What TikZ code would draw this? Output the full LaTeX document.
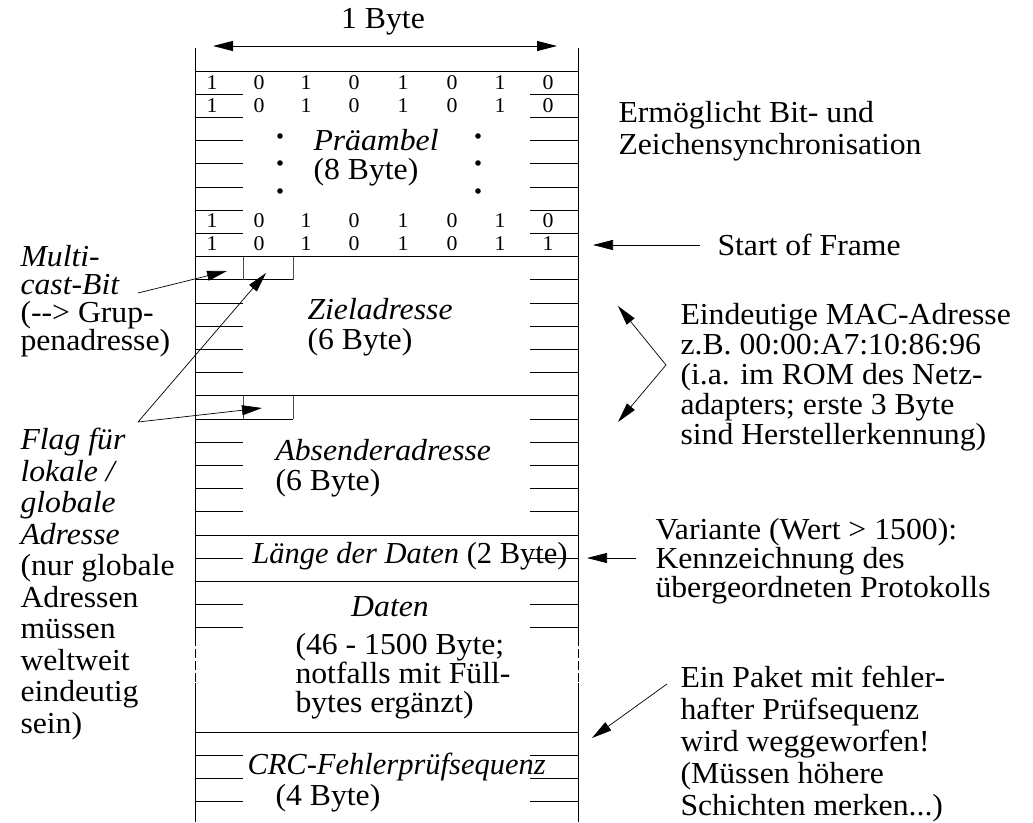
\documentclass[tikz,border=0pt]{standalone}
\usepackage{fontspec}
\setmainfont{Liberation Serif}[FakeStretch=1.04]
\newfontfamily\plainserif{Liberation Serif}
\usetikzlibrary{arrows.meta}

\begin{document}
\begin{tikzpicture}[x=1pt,y=-1pt,line width=1pt,>={Triangle[length=20pt,width=10pt]},
  txt/.style={inner sep=0pt,anchor=west,align=left,font=\fontsize{30.5}{30}\selectfont},
  bit/.style={inner sep=0pt,font=\fontsize{21}{22}\selectfont}]
  \useasboundingbox (0,0) rectangle (1033,822);

  % Frame sides, dashed where the data field is cut short.
  \foreach \x in {195,578}{
    \draw (\x,48) -- (\x,637);
    \draw[dash pattern=on 9pt off 3pt] (\x,637) -- (\x,683);
    \draw (\x,683) -- (\x,822);
  }

  % Field borders across the whole byte.
  \foreach \y in {71,256.6,395.8,535,581.4,732}
    \draw (195,\y) -- (578,\y);

  % Byte ticks on both sides.
  \foreach \y in {94.2,117.4,140.6,163.8,187,210.2,233.4,303,326.2,349.4,372.6,
                  442.2,465.4,488.6,511.8,558.2,604.6,627.8,755.2,778.4,801.6}{
    \draw (195,\y) -- (243,\y);
    \draw (530,\y) -- (578,\y);
  }
  \foreach \y in {279.8,419} \draw (530,\y) -- (578,\y);

  % First byte of each address with its two flag bits.
  \foreach \y in {256.6,395.8}{
    \draw (195,\y+23.2) -- (293,\y+23.2);
    \draw[black!70] (243,\y) -- (243,\y+23.2);
    \draw[black!70] (293,\y) -- (293,\y+23.2);
  }

  % Width of one byte.
  \coordinate (byteL) at (213,46);
  \coordinate (byteR) at (557,46);
  \draw[<->] (byteL) -- (byteR);
  \node[txt,anchor=center] (byte) at (383,22) {1 Byte};

  % Preamble bits.
  \foreach \r/\y/\last in {1/83/0,2/106/0,7/221/0,8/244/1}{
    \foreach \c/\x/\v in {1/212/1,2/259/0,3/306/1,4/354/0,5/403/1,6/452/0,7/500/1}
      \node[bit] (b\r\c) at (\x,\y) {\v};
    \node[bit] (b\r8) at (548,\y) {\last};
  }
  \foreach \x in {280,478}
    \foreach \y in {136,163,191}
      \fill (\x,\y) circle[radius=2.8];

  % Field names.
  \node[txt,font=\fontsize{30.5}{29}\selectfont] (pre) at (313,157.5) {\textit{Präambel}\\(8 Byte)};
  \node[txt] (ziel) at (307,327) {\textit{Zieladresse}\\(6 Byte)};
  \node[txt] (abs) at (275,468) {\textit{Absenderadresse}\\(6 Byte)};
  \node[txt,anchor=center,font=\fontsize{30.5}{30}\plainserif] (len) at (410,556)
    {\textit{Länge der Daten} (2 Byte)};
  \node[txt,anchor=center] (dat) at (390,607) {\textit{Daten}};
  \node[txt,font=\fontsize{30.5}{29}\selectfont] (datn) at (295,676)
    {(46 - 1500 Byte;\\notfalls mit Füll-\\bytes ergänzt)};
  \node[txt,font=\fontsize{30.5}{30}\plainserif] (crc) at (247,767) {\textit{CRC-Fehlerprüfsequenz}};
  \node[txt] (crcn) at (275,798) {(4 Byte)};

  % Notes on the left.
  \node[txt,font=\fontsize{30.5}{28}\selectfont] (mc) at (20,301)
    {\textit{Multi-}\\\textit{cast-Bit}\\(-{}-> Grup-\\penadresse)};
  \node[txt,font=\fontsize{30.5}{31.5}\selectfont] (flag) at (20,584)
    {\textit{Flag für}\\\textit{lokale /}\\\textit{globale}\\\textit{Adresse}\\(nur globale\\Adressen\\müssen\\weltweit\\eindeutig\\sein)};
  \coordinate (mcS) at (138,293);
  \coordinate (mcT) at (227,271);
  \coordinate (flagS) at (138,422);
  \coordinate (flagT1) at (266,273);
  \coordinate (flagT2) at (262,408);
  \draw[->,line width=0.7pt] (mcS) -- (mcT);
  \draw[->,line width=0.7pt] (flagS) -- (flagT1);
  \draw[->,line width=0.7pt] (flagS) -- (flagT2);

  % Notes on the right.
  \node[txt,font=\fontsize{30.5}{32}\selectfont] (sync) at (618,131)
    {Ermöglicht Bit- und\\Zeichensynchronisation};
  \node[txt] (sof) at (717,245) {Start of Frame};
  \node[txt] (mac) at (680,377.5)
    {Eindeutige MAC-Adresse\\z.B. 00:00:A7:10:86:96\\(i.a. im ROM des Netz-\\adapters; erste 3 Byte\\sind Herstellerkennung)};
  \node[txt,font=\fontsize{30.5}{29}\selectfont] (var) at (655,561)
    {Variante (Wert > 1500):\\Kennzeichnung des\\übergeordneten Protokolls};
  \node[txt,font=\fontsize{30.5}{32}\selectfont] (crcx) at (680,743.5)
    {Ein Paket mit fehler-\\hafter Prüfsequenz\\wird weggeworfen!\\(Müssen höhere\\Schichten merken...)};
  \coordinate (sofS) at (700,245);
  \coordinate (sofT) at (593,245);
  \coordinate (macS) at (666,365);
  \coordinate (macT1) at (618,306);
  \coordinate (macT2) at (618,422);
  \coordinate (varS) at (636,558);
  \coordinate (varT) at (587,558);
  \coordinate (crcS) at (667,684);
  \coordinate (crcT) at (592,738);
  \draw[->,line width=0.7pt] (sofS) -- (sofT);
  \draw[->,line width=0.7pt] (macS) -- (macT1);
  \draw[->,line width=0.7pt] (macS) -- (macT2);
  \draw[->,line width=0.7pt] (varS) -- (varT);
  \draw[->,line width=0.7pt] (crcS) -- (crcT);
\end{tikzpicture}
\end{document}
